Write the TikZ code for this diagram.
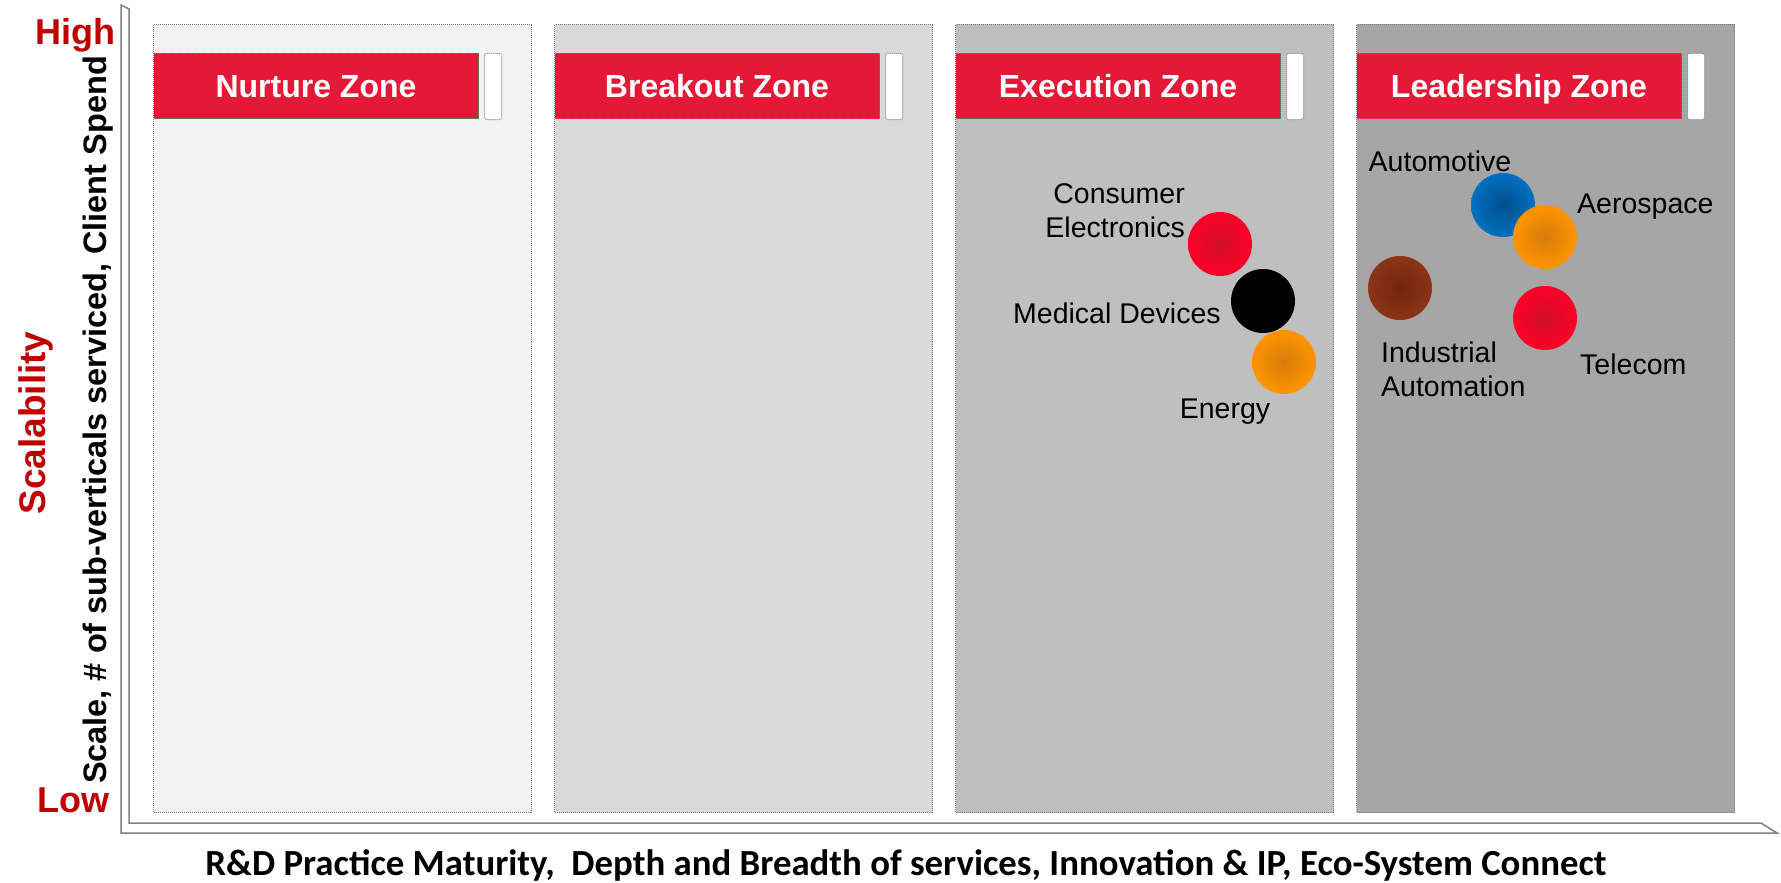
\documentclass[tikz,border=0pt]{standalone}
\usepackage{fontspec}
\setmainfont{Liberation Sans}
\newfontfamily\calfont{Carlito}
\definecolor{zoneA}{RGB}{242,242,242}
\definecolor{zoneB}{RGB}{217,217,217}
\definecolor{zoneC}{RGB}{191,191,191}
\definecolor{zoneD}{RGB}{166,166,166}
\definecolor{barred}{RGB}{227,25,55}
\definecolor{axred}{RGB}{192,0,0}
\definecolor{bordergray}{RGB}{125,125,125}
\definecolor{axgray}{RGB}{128,128,128}
\begin{document}
\begin{tikzpicture}[x=1pt,y=-1pt,
  zone/.style={draw=bordergray, line width=1pt, dash pattern=on 1pt off 1pt, anchor=north west, minimum width=378pt, minimum height=788pt, inner sep=0pt},
  zonebar/.style={fill=barred, draw=bordergray, line width=1pt, dash pattern=on 1pt off 1pt, anchor=north west, minimum width=325pt, minimum height=65pt, inner sep=0pt, text depth=0pt, text=white, font=\bfseries\fontsize{32}{38}\selectfont},
  zonetab/.style={fill=white, draw=bordergray, line width=1pt, dash pattern=on 1pt off 1pt, rounded corners=2pt, anchor=north west, minimum width=17pt, minimum height=66pt, inner sep=0pt},
  bubble/.style={circle, minimum size=64pt, inner sep=0pt},
  lbl/.style={font=\fontsize{28.5}{34}\selectfont, inner sep=0pt, text=black},
  axlbl/.style={font=\bfseries\fontsize{36}{42}\selectfont, text=axred, inner sep=0pt}
]
\useasboundingbox (0,0) rectangle (1781,883);
\fill[white] (0,0) rectangle (1781,883);

% axis
\draw[axgray, line width=1.5pt, fill=white, line join=miter]
  (121,5) -- (121,833) -- (1777,833) -- (1761,823) -- (129,823) -- (129,9) -- cycle;

% zones
\node[zone, fill=zoneA] (z1) at (153,24) {};
\node[zone, fill=zoneB] (z2) at (554,24) {};
\node[zone, fill=zoneC] (z3) at (955,24) {};
\node[zone, fill=zoneD] (z4) at (1356,24) {};

\node[zonebar] (b1) at (153,53) {Nurture Zone};
\node[zonebar] (b2) at (554,53) {Breakout Zone};
\node[zonebar] (b3) at (955,53) {Execution Zone};
\node[zonebar] (b4) at (1356,53) {Leadership Zone};

\node[zonetab] (t1) at (484,53) {};
\node[zonetab] (t2) at (885,53) {};
\node[zonetab] (t3) at (1286,53) {};
\node[zonetab] (t4) at (1687,53) {};

% axis labels
\node[axlbl, anchor=base east] (high) at (116,45) {High};
\node[axlbl, anchor=base east] (low) at (110,812) {Low};
\node[axlbl, font=\bfseries\fontsize{37}{42}\selectfont, rotate=90] (scal) at (36,423) {Scalability};
\node[font=\bfseries\fontsize{32.5}{38}\selectfont, rotate=90, inner sep=0pt] (scale) at (98,420) {Scale, \# of sub-verticals serviced, Client Spend};
\node[font=\calfont\bfseries\fontsize{36.8}{42}\selectfont, inner sep=0pt] (xtitle) at (906,865) {R\&D Practice Maturity,\ \ Depth and Breadth of services, Innovation \& IP, Eco-System Connect};

% bubbles
\node[bubble, shade, inner color={rgb,255:red,205;green,15;blue,40}, outer color={rgb,255:red,255;green,0;blue,40}] (ce) at (1220,244) {};
\node[bubble, fill=black] (md) at (1263,301) {};
\node[bubble, shade, inner color={rgb,255:red,215;green,125;blue,10}, outer color={rgb,255:red,255;green,148;blue,0}] (en) at (1284,362) {};
\node[bubble, shade, inner color={rgb,255:red,112;green,37;blue,16}, outer color={rgb,255:red,140;green,52;blue,22}] (ia) at (1400,288) {};
\node[bubble, shade, inner color={rgb,255:red,0;green,80;blue,140}, outer color={rgb,255:red,0;green,112;blue,192}] (au) at (1503,205) {};
\node[bubble, shade, inner color={rgb,255:red,215;green,125;blue,10}, outer color={rgb,255:red,255;green,148;blue,0}] (ae) at (1545,237) {};
\node[bubble, shade, inner color={rgb,255:red,205;green,15;blue,40}, outer color={rgb,255:red,255;green,0;blue,40}] (te) at (1545,318) {};

% bubble labels
\node[lbl, align=right, anchor=east] (cel) at (1185,211) {Consumer\\Electronics};
\node[lbl, anchor=west] (mdl) at (1013,313) {Medical Devices};
\node[lbl] (enl) at (1225,412) {Energy};
\node[lbl] (aul) at (1440,161) {Automotive};
\node[lbl, anchor=west] (ael) at (1577,207) {Aerospace};
\node[lbl, align=left, anchor=west] (ial) at (1381,369) {Industrial\\Automation};
\node[lbl, anchor=west] (tel) at (1580,364) {Telecom};
\end{tikzpicture}
\end{document}
